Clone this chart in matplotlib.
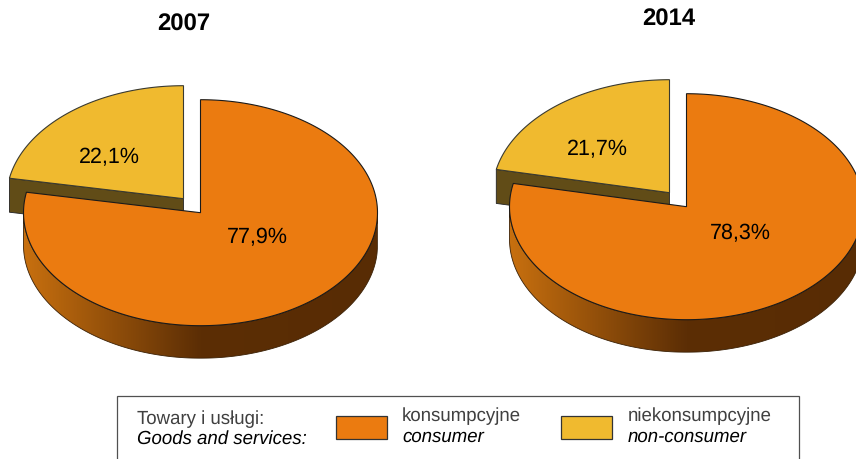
import numpy as np
import matplotlib
matplotlib.use("Agg")
import matplotlib.pyplot as plt
from matplotlib.patches import Polygon, Rectangle
from matplotlib.colors import LinearSegmentedColormap

# ---- data ----
years = ["2007", "2014"]
consumer = [77.9, 78.3]
non_consumer = [22.1, 21.7]
legend_title = ["Towary i usługi:", "Goods and services:"]
series_pl = ["konsumpcyjne", "niekonsumpcyjne"]
series_en = ["consumer", "non-consumer"]

# ---- style / layout (pixels) ----
ORANGE, YELLOW, DARK_Y = "#EB7B10", "#F0BA2F", "#614C17"
side_cmap = LinearSegmentedColormap.from_list(
    "side", [(0, "#C8700F"), (0.5, "#5C2E05"), (1, "#582C04")])
RX, RY, DEPTH, YDEPTH = 177, 113, 32.5, 34
orange_centres = [(200.5, 213.7), (686.5, 207.7)]
yellow_offset = (-17, -14)
title_pos = [(183.5, 25), (669, 19.5)]
font = ["Liberation Sans", "DejaVu Sans"]
plt.rcParams["font.family"] = font
plt.rcParams["text.hinting"] = "no_hinting"
plt.rcParams["text.hinting_factor"] = 8

fig = plt.figure(figsize=(8.56, 4.6), dpi=100)
ax = fig.add_axes([0, 0, 1, 1])
ax.set_xlim(0, 856)
ax.set_ylim(460, 0)
ax.axis("off")


def arc(cx, cy, t0, t1, n=240):
    t = np.linspace(t0, t1, n)
    return np.column_stack([cx + RX * np.sin(t), cy - RY * np.cos(t)])


def draw_pie(centre, title, title_xy, share_c):
    cx, cy = centre
    split = 2 * np.pi * share_c / 100
    # exploded slice
    yx, yy = cx + yellow_offset[0], cy + yellow_offset[1]
    end = arc(yx, yy, split, split + 1e-3, 2)[0]
    face = [(yx, yy), tuple(end), (end[0], end[1] + YDEPTH), (yx, yy + YDEPTH)]
    ax.add_patch(Polygon(face, closed=True, fc=DARK_Y, ec="#222222", lw=0.6, zorder=2))
    pts = np.vstack([[(yx, yy)], arc(yx, yy, split, 2 * np.pi)])
    ax.add_patch(Polygon(pts, closed=True, fc=YELLOW, ec="#3a3a30", lw=0.8, zorder=3))
    # rim of main slice
    front = arc(cx, cy, np.pi / 2, 3 * np.pi / 2)
    rim = np.vstack([front, (front + [0, DEPTH])[::-1]])
    poly = Polygon(rim, closed=True, fc="none", ec="#3a2005", lw=0.6, zorder=5)
    ax.add_patch(poly)
    grad = np.linspace(0, 1, 256).reshape(1, -1)
    im = ax.imshow(grad, cmap=side_cmap, aspect="auto", zorder=4,
                   extent=(cx - RX, cx + RX, cy + RY + DEPTH, cy))
    im.set_clip_path(poly)
    ax.set_xlim(0, 856)
    ax.set_ylim(460, 0)
    # top of main slice
    pts = np.vstack([[(cx, cy)], arc(cx, cy, 0, split)])
    ax.add_patch(Polygon(pts, closed=True, fc=ORANGE, ec="#1a1a1a", lw=0.8, zorder=6))
    ax.text(*title_xy, title, ha="center", va="center", fontsize=17.2,
            fontweight="bold", color="black", zorder=8)


def label(x, y, value):
    ax.text(x, y, f"{value:.1f}".replace(".", ",") + "%", ha="center", va="center",
            fontsize=15.5, color="black", zorder=8)


for i in range(2):
    draw_pie(orange_centres[i], years[i], title_pos[i], consumer[i])

label(109, 157.5, non_consumer[0])
label(257, 237.5, consumer[0])
label(597, 149.5, non_consumer[1])
label(740, 233.5, consumer[1])

# ---- legend ----
ax.add_patch(Rectangle((117, 396.5), 682, 80, fc="white", ec="#505050", lw=0.9, zorder=1))
ax.text(137, 419, legend_title[0], fontsize=13.4, color="#404040", va="center", ha="left")
ax.text(137, 439, legend_title[1], fontsize=13.4, color="black", style="italic",
        va="center", ha="left")
for x0, colour, tx, pl, en in [(336, ORANGE, 402, series_pl[0], series_en[0]),
                               (561, YELLOW, 628, series_pl[1], series_en[1])]:
    ax.add_patch(Rectangle((x0, 417), 51, 22.5, fc=colour, ec="#333333", lw=0.9, zorder=3))
    ax.text(tx, 416, pl, fontsize=13.4, color="#404040", va="center", ha="left")
    ax.text(tx, 437, en, fontsize=13.4, color="black", style="italic", va="center", ha="left")

fig.savefig("out.png", dpi=100, facecolor="white")
